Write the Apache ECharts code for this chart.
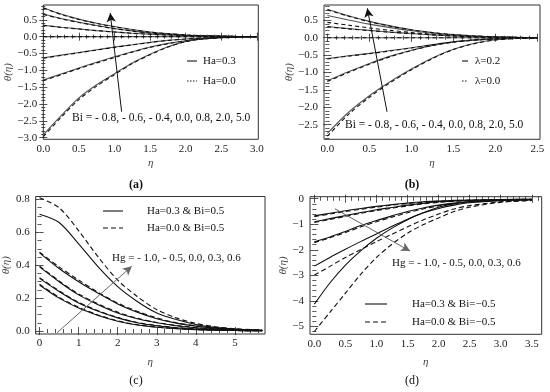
<!DOCTYPE html>
<html><head><meta charset="utf-8">
<script src="https://cdn.jsdelivr.net/npm/echarts@6/dist/echarts.min.js"></script>
<style>html,body{margin:0;padding:0;background:#fff}#c{width:550px;height:392px}</style>
</head><body><div id="c"></div><script>
// ---------- Panel (a): theta vs eta for Bi values, Ha=0.3 (solid) / Ha=0.0 (dashed)
const etaA = [0,0.25,0.5,0.75,1.0,1.25,1.5,1.75,2.0,2.25,2.5,2.75,3.0];
const aSolid = [
  [0.86,0.67,0.52,0.40,0.30,0.21,0.14,0.09,0.05,0.03,0.015,0.005,0],
  [0.67,0.54,0.43,0.33,0.24,0.17,0.11,0.07,0.04,0.02,0.01,0.005,0],
  [0.34,0.28,0.23,0.18,0.14,0.10,0.07,0.05,0.03,0.015,0.008,0.003,0],
  [0,0,0,0,0,0,0,0,0,0,0,0,0],
  [-0.63,-0.55,-0.47,-0.39,-0.31,-0.24,-0.17,-0.11,-0.07,-0.04,-0.02,-0.01,0],
  [-1.29,-1.11,-0.93,-0.76,-0.60,-0.45,-0.31,-0.20,-0.12,-0.07,-0.035,-0.015,0],
  [-2.92,-2.35,-1.82,-1.43,-1.10,-0.78,-0.52,-0.30,-0.14,-0.06,-0.02,-0.005,0]
];
const aDashed = [
  [0.85,0.66,0.51,0.39,0.29,0.205,0.135,0.088,0.05,0.03,0.015,0.005,0],
  [0.66,0.53,0.42,0.325,0.235,0.165,0.108,0.07,0.04,0.02,0.01,0.005,0],
  [0.335,0.275,0.225,0.178,0.138,0.1,0.07,0.05,0.03,0.015,0.008,0.003,0],
  [0,0,0,0,0,0,0,0,0,0,0,0,0],
  [-0.64,-0.56,-0.48,-0.40,-0.32,-0.245,-0.175,-0.115,-0.072,-0.04,-0.02,-0.01,0],
  [-1.31,-1.13,-0.95,-0.78,-0.62,-0.46,-0.32,-0.21,-0.125,-0.07,-0.035,-0.015,0],
  [-2.97,-2.40,-1.87,-1.47,-1.13,-0.80,-0.54,-0.31,-0.15,-0.065,-0.025,-0.007,0]
];
const aTicksX = [0,0.5,1.0,1.5,2.0,2.5,3.0];
const aTicksY = [-3.0,-2.5,-2.0,-1.5,-1.0,-0.5,0.0,0.5];
const aArrow = [[1.10,-2.23],[0.94,0.70]];

// ---------- Panel (b): lambda=0.2 (solid) / lambda=0.0 (dashed)
const etaB = [0,0.25,0.5,0.75,1.0,1.25,1.5,1.75,2.0,2.25,2.5];
const bSolid = [
  [0.82,0.63,0.47,0.34,0.23,0.15,0.09,0.05,0.025,0.01,0.003],
  [0.64,0.51,0.39,0.29,0.20,0.13,0.08,0.045,0.02,0.01,0.003],
  [0.32,0.26,0.21,0.16,0.12,0.08,0.05,0.03,0.015,0.006,0.002],
  [0,0,0,0,0,0,0,0,0,0,0],
  [-0.60,-0.52,-0.45,-0.37,-0.29,-0.20,-0.12,-0.07,-0.035,-0.015,-0.005],
  [-1.24,-0.98,-0.74,-0.53,-0.36,-0.22,-0.12,-0.06,-0.03,-0.01,-0.003],
  [-2.75,-2.15,-1.67,-1.26,-0.90,-0.58,-0.33,-0.16,-0.06,-0.02,-0.005]
];
const bDashed = [
  [0.80,0.62,0.46,0.33,0.225,0.145,0.088,0.05,0.025,0.01,0.003],
  [0.44,0.36,0.28,0.21,0.15,0.10,0.06,0.035,0.018,0.008,0.002],
  [0.315,0.255,0.205,0.158,0.118,0.08,0.05,0.03,0.015,0.006,0.002],
  [0,0,0,0,0,0,0,0,0,0,0],
  [-0.61,-0.53,-0.46,-0.38,-0.295,-0.205,-0.125,-0.072,-0.036,-0.015,-0.005],
  [-1.26,-1.0,-0.76,-0.545,-0.37,-0.225,-0.125,-0.062,-0.03,-0.01,-0.003],
  [-2.83,-2.21,-1.71,-1.29,-0.92,-0.60,-0.34,-0.17,-0.065,-0.02,-0.005]
];
const bTicksX = [0,0.5,1.0,1.5,2.0,2.5];
const bTicksY = [-2.5,-2.0,-1.5,-1.0,-0.5,0.0,0.5];
const bArrow = [[0.71,-2.13],[0.475,0.845]];

// ---------- Panel (c): Hg values, Ha=0.3 & Bi=0.5 (solid) / Ha=0.0 & Bi=0.5 (dashed)
const etaC = [0,0.5,1.0,1.5,2.0,2.5,3.0,3.5,4.0,4.5,5.0,5.5,5.7];
const cSolid = [
  [0.71,0.66,0.53,0.39,0.27,0.18,0.11,0.07,0.04,0.022,0.012,0.006,0.005],
  [0.475,0.38,0.30,0.23,0.165,0.115,0.075,0.048,0.03,0.018,0.01,0.006,0.005],
  [0.39,0.30,0.22,0.16,0.11,0.075,0.05,0.032,0.02,0.012,0.007,0.004,0.003],
  [0.32,0.24,0.17,0.12,0.08,0.05,0.032,0.02,0.012,0.007,0.004,0.002,0.002],
  [0.28,0.20,0.14,0.095,0.06,0.037,0.023,0.014,0.008,0.005,0.003,0.002,0.001]
];
const cDashed = [
  [0.81,0.75,0.61,0.45,0.31,0.21,0.13,0.08,0.046,0.026,0.014,0.008,0.006],
  [0.48,0.39,0.31,0.235,0.17,0.12,0.08,0.05,0.032,0.019,0.011,0.006,0.005],
  [0.395,0.305,0.225,0.165,0.115,0.078,0.052,0.034,0.021,0.013,0.008,0.004,0.003],
  [0.325,0.245,0.175,0.124,0.083,0.052,0.034,0.021,0.013,0.008,0.004,0.002,0.002],
  [0.285,0.205,0.145,0.098,0.062,0.039,0.024,0.015,0.009,0.005,0.003,0.002,0.001]
];
const cTicksX = [0,1,2,3,4,5];
const cTicksY = [0.0,0.2,0.4,0.6,0.8];
const cArrow = [[0.45,-0.01],[2.36,0.394]];

// ---------- Panel (d): Hg values, Ha=0.3 & Bi=-0.5 (solid) / Ha=0.0 & Bi=-0.5 (dashed)
const etaD = [0,0.25,0.5,0.75,1.0,1.25,1.5,1.75,2.0,2.25,2.5,3.0,3.5];
const dSolid = [
  [-0.67,-0.57,-0.47,-0.38,-0.30,-0.23,-0.17,-0.12,-0.09,-0.065,-0.05,-0.03,-0.02],
  [-0.90,-0.78,-0.66,-0.54,-0.43,-0.34,-0.25,-0.18,-0.12,-0.09,-0.07,-0.04,-0.02],
  [-1.69,-1.50,-1.28,-1.05,-0.85,-0.67,-0.50,-0.36,-0.25,-0.17,-0.11,-0.05,-0.03],
  [-2.64,-2.30,-1.98,-1.67,-1.38,-1.08,-0.80,-0.56,-0.38,-0.25,-0.16,-0.08,-0.04],
  [-4.13,-3.30,-2.60,-2.03,-1.55,-1.15,-0.82,-0.55,-0.33,-0.20,-0.13,-0.07,-0.04]
];
const dDashed = [
  [-0.70,-0.60,-0.50,-0.41,-0.33,-0.25,-0.19,-0.14,-0.10,-0.075,-0.055,-0.035,-0.02],
  [-0.93,-0.81,-0.69,-0.57,-0.46,-0.37,-0.28,-0.20,-0.14,-0.10,-0.075,-0.045,-0.025],
  [-1.72,-1.53,-1.32,-1.10,-0.90,-0.72,-0.55,-0.40,-0.28,-0.19,-0.13,-0.06,-0.03],
  [-2.99,-2.65,-2.30,-1.99,-1.68,-1.39,-1.10,-0.83,-0.60,-0.40,-0.27,-0.12,-0.06],
  [-5.20,-4.45,-3.70,-2.95,-2.30,-1.78,-1.35,-1.02,-0.75,-0.50,-0.33,-0.14,-0.07]
];
const dTicksX = [0,0.5,1.0,1.5,2.0,2.5,3.0,3.5];
const dTicksY = [-5,-4,-3,-2,-1,0];
const dArrow = [[0.33,-0.39],[1.54,-2.05]];

// ---------- helpers
const FONT = 'Liberation Serif';
function minorsOf(majors, step, lo, hi){
  const out=[]; const a=Math.ceil(lo/step-1e-9), b=Math.floor(hi/step+1e-9);
  for(let k=a;k<=b;k++){const v=+(k*step).toFixed(6); if(!majors.some(m=>Math.abs(m-v)<1e-9)) out.push(v);}
  return out;
}
function fmt(dec){return v=>{const s=Math.abs(v).toFixed(dec); return (v< -1e-9?'\u2212':'')+s;};}

const grids=[], xAxes=[], yAxes=[], series=[];
function panel(cfg){
  const g=grids.length;
  grids.push({left:cfg.grid[0],top:cfg.grid[1],width:cfg.grid[2],height:cfg.grid[3],show:true,borderColor:'#333',borderWidth:1,backgroundColor:'transparent'});
  const base=xAxes.length;
  const xmin=cfg.xr[0], xmax=cfg.xr[1], ymin=cfg.yr[0], ymax=cfg.yr[1];
  const xMin=minorsOf(cfg.tx,cfg.mx,xmin,xmax), yMin=minorsOf(cfg.ty,cfg.my,ymin,ymax);
  const tickStyle={color:'#222',width:0.8};
  const mk=(pos,vals,len,labels,extra)=>Object.assign({type:'value',gridIndex:g,position:pos,
      axisLine:{show:false},splitLine:{show:false},
      axisTick:{show:true,inside:true,length:len,customValues:vals,lineStyle:tickStyle},
      axisLabel:labels?{show:true,customValues:vals,formatter:labels.f,fontFamily:FONT,fontSize:11,color:'#222',margin:labels.m}:{show:false}},extra);
  ['bottom','top'].forEach(pos=>{
    const isMain=pos==='bottom';
    xAxes.push(mk(pos,cfg.tx,4,isMain?{f:cfg.fx,m:4}:null,Object.assign({min:xmin,max:xmax},isMain?{name:'\u03b7',nameLocation:'middle',nameGap:cfg.xGap,nameTextStyle:{fontFamily:FONT,fontStyle:'italic',fontSize:11,color:'#444'}}:{})));
    xAxes.push(mk(pos,xMin,2,null,{min:xmin,max:xmax}));
  });
  ['left','right'].forEach(pos=>{
    const isMain=pos==='left';
    yAxes.push(mk(pos,cfg.ty,4,isMain?{f:cfg.fy,m:6}:null,Object.assign({min:ymin,max:ymax},isMain?{name:'\u03b8(\u03b7)',nameLocation:'middle',nameGap:cfg.yGap,nameTextStyle:{fontFamily:FONT,fontStyle:'italic',fontSize:11,color:'#444'}}:{})));
    yAxes.push(mk(pos,yMin,2,null,{min:ymin,max:ymax}));
  });
  const add=(rows,dashed,name)=>rows.forEach((r,i)=>series.push({type:'line',name:name,xAxisIndex:base,yAxisIndex:base,
      data:cfg.eta.map((x,j)=>[x,r[j]]),smooth:0.3,symbol:'none',silent:true,animation:false,
      lineStyle:{color:dashed?cfg.dashColor:cfg.solidColor,width:1.1,type:dashed?cfg.dash:'solid'},z:dashed?3:2}));
  add(cfg.solid,false,cfg.names[0]);
  add(cfg.dashed,true,cfg.names[1]);
  series.push({type:'line',xAxisIndex:base,yAxisIndex:base,data:[],symbol:'none',silent:true,animation:false,
    markLine:{silent:true,animation:false,symbol:['none','arrow'],symbolSize:[7,9],label:{show:false},
      lineStyle:{color:cfg.arrowColor,width:1,type:'solid'},emphasis:{disabled:true},
      data:[[{coord:cfg.arrow[0]},{coord:cfg.arrow[1]}]]}});
}

panel({grid:[43.3,5,215,134.3],xr:[0,3.02],yr:[-3.05,0.94],tx:aTicksX,ty:aTicksY,mx:0.1,my:0.1,
  fx:fmt(1),fy:fmt(1),xGap:18,yGap:28,eta:etaA,solid:aSolid,dashed:aDashed,names:['Ha=0.3','Ha=0.0'],
  solidColor:'#555',dashColor:'#111',dash:[4,3],arrow:aArrow,arrowColor:'#111'});
panel({grid:[324,5,216,134.3],xr:[-0.04,2.53],yr:[-2.92,0.94],tx:bTicksX,ty:bTicksY,mx:0.1,my:0.1,
  fx:fmt(1),fy:fmt(1),xGap:18,yGap:3,eta:etaB,solid:bSolid,dashed:bDashed,names:['\u03bb=0.2','\u03bb=0.0'],
  solidColor:'#555',dashColor:'#111',dash:[4,3],arrow:bArrow,arrowColor:'#111'});
panel({grid:[35,196.5,230,137.5],xr:[-0.1,5.77],yr:[-0.018,0.818],tx:cTicksX,ty:cTicksY,mx:0.2,my:0.05,
  fx:fmt(0),fy:fmt(1),xGap:23,yGap:21,eta:etaC,solid:cSolid,dashed:cDashed,names:['Ha=0.3 & Bi=0.5','Ha=0.0 & Bi=0.5'],
  solidColor:'#111',dashColor:'#111',dash:[5,3],arrow:cArrow,arrowColor:'#666'});
panel({grid:[310,196.7,231.7,137.6],xr:[-0.07,3.66],yr:[-5.31,0.08],tx:dTicksX,ty:dTicksY,mx:0.1,my:0.2,
  fx:fmt(1),fy:fmt(0),xGap:22,yGap:21,eta:etaD,solid:dSolid,dashed:dDashed,names:['Ha=0.3 & Bi=\u22120.5','Ha=0.0 & Bi=\u22120.5'],
  solidColor:'#111',dashColor:'#111',dash:[5,3],arrow:dArrow,arrowColor:'#666'});

// ---------- annotations & legends (graphic)
const txt=(x,y,s,size,opt)=>Object.assign({type:'text',x:x,y:y,style:Object.assign({text:s,fontFamily:FONT,fontSize:size,fill:'#111',textVerticalAlign:'middle'},opt||{}),silent:true,z:100});
const seg=(x1,y1,x2,y2,dash)=>({type:'line',shape:{x1:x1,y1:y1,x2:x2,y2:y2},style:{stroke:'#111',lineWidth:1.1,lineDash:dash||null},silent:true,z:100});
const graphic=[
  txt(72,118,'Bi = - 0.8, - 0.6, - 0.4, 0.0, 0.8, 2.0, 5.0',11.5),
  seg(187,61,197,61), txt(203,61,'Ha=0.3',11),
  seg(187,81,197,81,[1.5,1.5]), txt(203,81,'Ha=0.0',11),
  txt(345,125,'Bi = - 0.8, - 0.6, - 0.4, 0.0, 0.8, 2.0, 5.0',11.5),
  seg(462,61,468,61), txt(475,61,'\u03bb=0.2',11),
  seg(462,81,468,81,[1.5,1.5]), txt(475,81,'\u03bb=0.0',11),
  txt(112,258,'Hg = - 1.0, - 0.5, 0.0, 0.3, 0.6',11),
  seg(103,211,123,211), txt(147,211,'Ha=0.3 & Bi=0.5',11),
  seg(103,228,123,228,[5,3]), txt(147,228,'Ha=0.0 & Bi=0.5',11),
  txt(392,263,'Hg = - 1.0, - 0.5, 0.0, 0.3, 0.6',11),
  seg(365,304,387,304), txt(412,304,'Ha=0.3 & Bi=\u22120.5',11),
  seg(365,322,387,322,[5,3]), txt(412,322,'Ha=0.0 & Bi=\u22120.5',11),
  txt(136,185,'(a)',12,{fontWeight:'bold',textAlign:'center'}),
  txt(412,185,'(b)',12,{fontWeight:'bold',textAlign:'center'}),
  txt(136,381,'(c)',12,{textAlign:'center'}),
  txt(412,381,'(d)',12,{textAlign:'center'})
];

const chart=echarts.init(document.getElementById('c'),null,{renderer:'canvas'});
chart.setOption({animation:false,grid:grids,xAxis:xAxes,yAxis:yAxes,series:series,graphic:graphic});
</script></body></html>
